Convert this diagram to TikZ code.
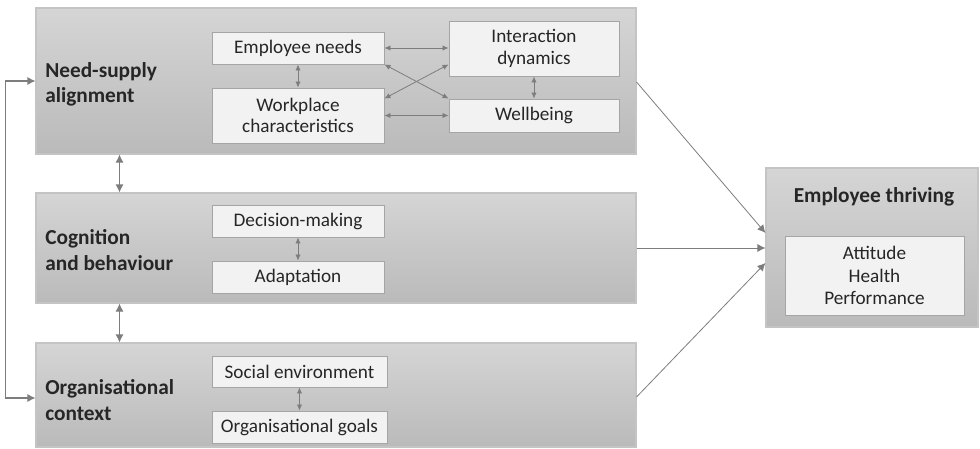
\documentclass[tikz,border=0pt]{standalone}
\usepackage{fontspec}
\setmainfont{Carlito}
\usepackage{xcolor}
\usepackage{tikz}
\usetikzlibrary{arrows.meta,positioning}
\definecolor{boxline}{RGB}{196,196,196}
\definecolor{boxtop}{RGB}{213,213,213}
\definecolor{boxbot}{RGB}{186,186,186}
\definecolor{itemfill}{RGB}{242,242,243}
\definecolor{itemline}{RGB}{165,165,165}
\definecolor{linkgray}{RGB}{125,125,125}
\definecolor{txt}{RGB}{38,38,38}
\tikzset{
  band/.style={rectangle, draw=boxline, line width=0.8pt, top color=boxtop, bottom color=boxbot, minimum width=450pt, inner sep=0pt},
  item/.style={rectangle, draw=itemline, line width=0.7pt, fill=itemfill, text=txt, align=center, inner sep=0pt, minimum width=129pt, minimum height=24pt, font=\fontsize{14.4}{15.9}\selectfont},
  lbl/.style={anchor=west, align=left, text=txt, inner sep=0pt, font=\fontsize{16}{18.9}\selectfont\bfseries},
  link/.style={draw=linkgray, line width=0.6pt, {Latex[length=4.5pt,width=4pt]}-{Latex[length=4.5pt,width=4pt]}},
  biglink/.style={draw=linkgray, line width=0.8pt, {Latex[length=6pt,width=6pt]}-{Latex[length=6pt,width=6pt]}},
  feed/.style={draw=linkgray, line width=0.6pt, -{Latex[length=6pt,width=6pt]}}
}

\begin{document}
\begin{tikzpicture}[x=0.75pt,y=-0.75pt]
\useasboundingbox (0,0) rectangle (980,449);
\node [band, minimum height=109.5pt] (nsa) at (336,81) {};
\node [band, minimum height=82.5pt] (cab) at (336,248) {};
\node [band, minimum height=78pt] (oc) at (336,395) {};
\node [band, minimum width=159pt, minimum height=119.25pt] (et) at (872,247.5) {};

\node [lbl] (nsat) at (45,84) {Need-supply\\alignment};
\node [lbl] (cabt) at (45,250) {Cognition\\and behaviour};
\node [lbl] (oct) at (45,400) {Organisational\\context};
\node [lbl, anchor=center] (ett) at (874,197) {Employee thriving};

\node [item] (en) at (298,48) {Employee needs};
\node [item, minimum height=41.25pt] (wc) at (298,115.5) {Workplace\\characteristics};
\node [item, minimum width=127.5pt, minimum height=41.25pt] (id) at (534,48.5) {Interaction\\dynamics};
\node [item, minimum width=127.5pt, minimum height=24.75pt] (wb) at (534,115.5) {Wellbeing};
\node [item] (dm) at (298,221) {Decision-making};
\node [item] (ad) at (298,277) {Adaptation};
\node [item, minimum width=131.25pt, minimum height=23.25pt] (se) at (299.5,371.5) {Social environment};
\node [item, minimum width=131.25pt] (og) at (299.5,427) {Organisational goals};
\node [item, minimum width=134.25pt, minimum height=59.25pt, font=\fontsize{14.4}{16.9}\selectfont] (etl) at (874.5,275.5) {Attitude\\Health\\Performance};

\coordinate (vx) at (119.5,0);

\draw [link] (en.east) -- (en.east -| id.west);
\draw [link] (wc.east) -- (wc.east -| wb.west);
\draw [link] (en.south east) -- (wb.north west);
\draw [link] (wc.north east |- wb.north west) -- (id.west |- en.south east);
\draw [link] (en) -- (wc);
\draw [link] (id) -- (wb);
\draw [link] (dm) -- (ad);
\draw [link] (se) -- (og);

\draw [biglink] (vx |- nsa.south) -- (vx |- cab.north);
\draw [biglink] (vx |- cab.south) -- (vx |- oc.north);
\draw [biglink] (nsa.west) -- ++(-30,0) |- ([yshift=-2.25pt]oc.west);

\draw [feed] ([yshift=-0.75pt]nsa.east) -- ([yshift=10.9pt]et.west);
\draw [feed] (cab.east) -- (cab.east -| et.west);
\draw [feed] ([yshift=-1.5pt]oc.east) -- ([yshift=-11.6pt]et.west);
\end{tikzpicture}
\end{document}
